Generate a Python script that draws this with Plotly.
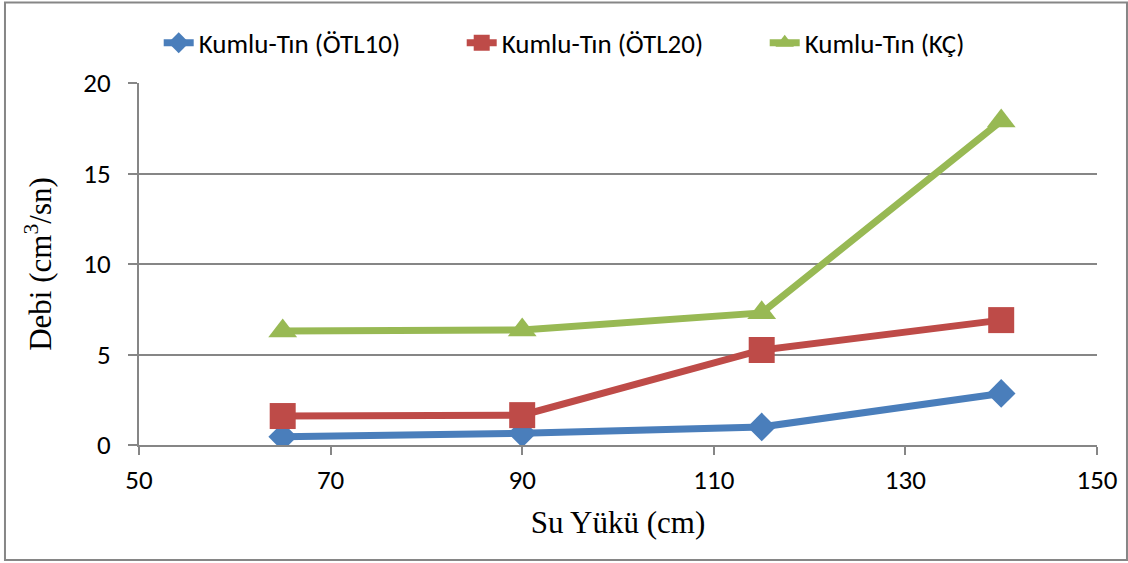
import plotly.graph_objects as go

# Su yükü (cm) ve debi (cm³/sn) ölçümleri
su_yuku = [65, 90, 115, 140]
debi_otl10 = [0.45, 0.65, 1.0, 2.85]
debi_otl20 = [1.6, 1.65, 5.25, 6.9]
debi_kc = [6.3, 6.35, 7.3, 17.9]

series_names = ["Kumlu-Tın (ÖTL10)", "Kumlu-Tın (ÖTL20)", "Kumlu-Tın (KÇ)"]
series_colors = ["#4a7ebb", "#be4b48", "#98b954"]
series_symbols = ["diamond", "square", "triangle-up"]
series_sizes = [22, 26, 25]
x_ticks = [50, 70, 90, 110, 130, 150]
y_ticks = [0, 5, 10, 15, 20]

sans = "Carlito, Lato, sans-serif"
tick_font = dict(family=sans, size=27, color="#000000")
title_font = dict(family="Liberation Serif, Times New Roman, serif", size=31, color="#000000")
axis_gray = "#868686"

fig = go.Figure()
for name, ys, col, sym, sz in zip(series_names, [debi_otl10, debi_otl20, debi_kc],
                                  series_colors, series_symbols, series_sizes):
    fig.add_trace(go.Scatter(
        x=su_yuku, y=ys, name=name, mode="lines+markers",
        line=dict(color=col, width=7),
        marker=dict(symbol=sym, size=sz, color=col, line=dict(width=0)),
    ))

fig.update_layout(
    width=1128, height=563,
    margin=dict(l=139, r=31, t=83, b=118, autoexpand=False),
    paper_bgcolor="white", plot_bgcolor="white",
    showlegend=True,
    legend=dict(orientation="h", x=0.495, xanchor="center", y=1.11, yanchor="middle",
                bgcolor="rgba(0,0,0,0)",
                font=dict(family=sans, size=27, color="#000000"),
                entrywidth=258, entrywidthmode="pixels",
                traceorder="normal"),
    xaxis=dict(range=[50, 150], tickvals=x_ticks, showgrid=False, zeroline=False,
               showline=True, linecolor=axis_gray, linewidth=2,
               ticks="outside", ticklen=8, tickcolor=axis_gray, tickwidth=1.5,
               tickfont=tick_font, ticklabelstandoff=2,
               title=dict(text="Su Yükü (cm)", font=title_font, standoff=16)),
    yaxis=dict(range=[0, 20], tickvals=y_ticks, showgrid=True, gridcolor=axis_gray, gridwidth=1.5,
               zeroline=False, showline=True, linecolor=axis_gray, linewidth=2,
               ticks="outside", ticklen=9, tickcolor=axis_gray, tickwidth=1.5,
               tickfont=tick_font, ticklabelstandoff=12,
               title=dict(text="Debi (cm<sup>3</sup>/sn)", font=title_font, standoff=22)),
)

# Grafik alanı çerçevesi
fig.add_shape(type="rect", xref="paper", yref="paper",
              x0=-0.1399, x1=1.0313, y0=-0.3177, y1=1.2224,
              line=dict(color=axis_gray, width=2), fillcolor="rgba(0,0,0,0)", layer="below")

fig.write_html("out.html")
